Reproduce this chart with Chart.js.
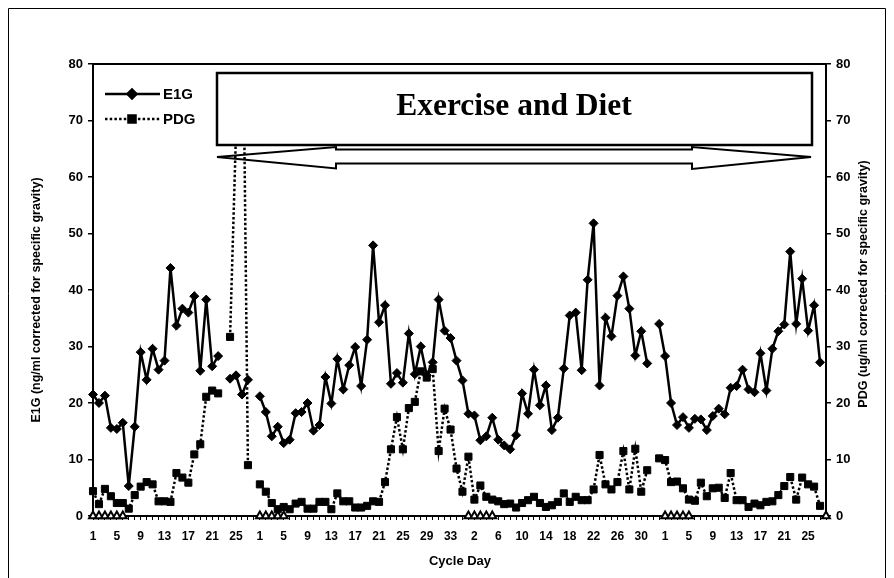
<!DOCTYPE html>
<html>
<head>
<meta charset="utf-8">
<script src="https://cdn.jsdelivr.net/npm/chart.js@4.4.0/dist/chart.umd.min.js"></script>
<style>
  html, body { margin: 0; padding: 0; background: #fff; }
  #wrap { width: 894px; height: 578px; }
</style>
</head>
<body>
<div id="wrap"><canvas id="chart" width="894" height="578"></canvas></div>
<script>
// ── DATA ──────────────────────────────────────────
// four cycles, days numbered from 1 in each
const cycleLengths = [28, 35, 33, 28];
const cycleDays = [];
cycleLengths.forEach(n => { for (let d = 1; d <= n; d++) cycleDays.push(String(d)); });

// E1G (ng/ml), null = no sample
const e1g = [
  21.5, 20.0, 21.3, 15.6, 15.4, 16.5, 5.3, 15.8, 29.0, 24.1,
  29.6, 25.9, 27.5, 43.9, 33.7, 36.7, 36.0, 38.9, 25.7, 38.3,
  26.5, 28.3, null, 24.3, 24.9, 21.5, 24.1, null,
  21.2, 18.4, 14.1, 15.8, 12.9, 13.5, 18.2, 18.4, 20.0, 15.1,
  16.1, 24.6, 19.9, 27.8, 22.4, 26.7, 29.9, 23.0, 31.2, 47.9,
  34.3, 37.3, 23.4, 25.3, 23.6, 32.3, 25.1, 30.0, 24.9, 27.2,
  38.3, 32.8, 31.5, 27.5, 24.0,
  18.1, 17.8, 13.4, 14.1, 17.4, 13.5, 12.5, 11.8, 14.3, 21.7,
  18.1, 25.9, 19.6, 23.1, 15.2, 17.4, 26.1, 35.5, 36.0, 25.8,
  41.8, 51.8, 23.1, 35.1, 31.8, 39.0, 42.4, 36.7, 28.4, 32.7,
  27.0, null, 34.0,
  28.3, 20.0, 16.1, 17.5, 15.6, 17.2, 17.1, 15.2, 17.7, 19.0,
  18.0, 22.7, 23.0, 25.9, 22.4, 21.9, 28.8, 22.2, 29.6, 32.7,
  33.9, 46.8, 34.0, 42.0, 32.8, 37.3, 27.2, null
];

// PDG (ug/ml), null = no sample
const pdg = [
  4.4, 2.1, 4.8, 3.5, 2.3, 2.3, 1.3, 3.7, 5.2, 6.0,
  5.6, 2.6, 2.6, 2.5, 7.6, 6.8, 5.9, 10.9, 12.7, 21.1,
  22.2, 21.7, null, 31.7, 68.0, 105.0, 9.0, null,
  5.6, 4.3, 2.3, 1.2, 1.6, 1.2, 2.2, 2.5, 1.3, 1.3,
  2.5, 2.5, 1.2, 4.0, 2.6, 2.6, 1.5, 1.5, 1.8, 2.6,
  2.5, 6.0, 11.8, 17.5, 11.8, 19.1, 20.2, 25.6, 24.5, 26.0,
  11.5, 19.0, 15.3, 8.4, 4.3,
  10.5, 2.9, 5.4, 3.4, 2.9, 2.6, 2.1, 2.2, 1.5, 2.3,
  2.8, 3.4, 2.3, 1.6, 1.9, 2.5, 4.0, 2.5, 3.4, 2.8,
  2.8, 4.7, 10.8, 5.6, 4.7, 6.0, 11.5, 4.7, 11.9, 4.3,
  8.1, null, 10.2,
  9.9, 6.0, 6.1, 4.9, 2.9, 2.7, 5.9, 3.5, 4.9, 5.0,
  3.2, 7.6, 2.8, 2.8, 1.6, 2.2, 1.9, 2.5, 2.6, 3.7,
  5.3, 6.9, 2.9, 6.8, 5.6, 5.2, 1.8, null
];

// positions (index into cycleDays) of the open triangles on the zero line
const mensesIdx = [0, 1, 2, 3, 4, 5, 28, 29, 30, 31, 32, 63, 64, 65, 66, 67, 96, 97, 98, 99, 100, 123];
const menses = cycleDays.map((_, i) => mensesIdx.includes(i) ? 0 : null);

const yMin = 0, yMax = 80, yStep = 10;

// ── STYLE ─────────────────────────────────────────
const SANS = "'Liberation Sans', Arial, sans-serif";
const SERIF = "'Liberation Serif', 'Times New Roman', serif";
const tickFont = { family: SANS, size: 13, weight: 'bold' };
const xTickFont = { family: SANS, size: 12, weight: 'bold' };

function yAxis(position, width) {
  return {
    position,
    min: yMin, max: yMax,
    ticks: { stepSize: yStep, padding: 5, color: '#000', font: tickFont },
    grid: { drawOnChartArea: false, drawTicks: true, tickLength: 5, color: '#000', lineWidth: 1.5 },
    border: { display: true, color: '#000', width: 2 },
    afterFit: s => { s.width = width; },
  };
}

// ── OVERLAY: frame, arrow, box, legend, titles ────
const overlay = {
  id: 'overlay',
  beforeDatasetsDraw(chart) {
    const ctx = chart.ctx;
    ctx.save();
    // double-headed block arrow under the box
    ctx.beginPath();
    ctx.moveTo(217, 157);
    ctx.lineTo(336, 147);
    ctx.lineTo(336, 149.5);
    ctx.lineTo(692, 149.5);
    ctx.lineTo(692, 147);
    ctx.lineTo(811, 157);
    ctx.lineTo(692, 169);
    ctx.lineTo(692, 163.5);
    ctx.lineTo(336, 163.5);
    ctx.lineTo(336, 168.5);
    ctx.closePath();
    ctx.fillStyle = '#fff';
    ctx.fill();
    ctx.lineWidth = 2;
    ctx.strokeStyle = '#000';
    ctx.stroke();
    ctx.restore();
  },
  afterDatasetsDraw(chart) {
    const ctx = chart.ctx;
    const H = Chart.helpers;
    ctx.save();
    // box with the label
    ctx.fillStyle = '#fff';
    ctx.fillRect(217, 73, 595, 72);
    ctx.lineWidth = 2.5;
    ctx.strokeStyle = '#000';
    ctx.strokeRect(217, 73, 595, 72);
    ctx.fillStyle = '#000';
    ctx.font = 'bold 31.5px ' + SERIF;
    ctx.textAlign = 'center';
    ctx.textBaseline = 'alphabetic';
    ctx.fillText('Exercise and Diet', 514, 115);

    // legend
    const rows = [
      { ds: chart.data.datasets[0], y: 94 },
      { ds: chart.data.datasets[1], y: 119 },
    ];
    rows.forEach(r => {
      ctx.beginPath();
      ctx.setLineDash(r.ds.borderDash || []);
      ctx.lineWidth = r.ds.borderWidth;
      ctx.strokeStyle = '#000';
      ctx.moveTo(105, r.y);
      ctx.lineTo(160, r.y);
      ctx.stroke();
      ctx.setLineDash([]);
      ctx.fillStyle = '#000';
      H.drawPoint(ctx, {
        pointStyle: r.ds.pointStyle, radius: r.ds.pointRadius,
        rotation: 0, borderWidth: 1,
      }, 132, r.y);
      ctx.fillStyle = '#000';
      ctx.font = 'bold 15px ' + SANS;
      ctx.textAlign = 'left';
      ctx.textBaseline = 'middle';
      ctx.fillText(r.ds.label, 163, r.y + 1);
    });
    ctx.restore();
  },
  afterDraw(chart) {
    const ctx = chart.ctx;
    const a = chart.chartArea;
    ctx.save();
    // top edge of the plot frame
    ctx.strokeStyle = '#000';
    ctx.lineWidth = 2;
    ctx.beginPath();
    ctx.moveTo(a.left, a.top);
    ctx.lineTo(a.right, a.top);
    ctx.stroke();
    // outer border of the figure
    ctx.lineWidth = 1;
    ctx.beginPath();
    ctx.moveTo(8.5, 578);
    ctx.lineTo(8.5, 8.5);
    ctx.lineTo(885.5, 8.5);
    ctx.lineTo(885.5, 578);
    ctx.stroke();

    // axis titles
    ctx.fillStyle = '#000';
    ctx.textAlign = 'center';
    ctx.textBaseline = 'middle';
    ctx.font = 'bold 13px ' + SANS;
    ctx.fillText('Cycle Day', 460, 561);

    ctx.font = 'bold 12.5px ' + SANS;
    ctx.save();
    ctx.translate(37, 300);
    ctx.rotate(-Math.PI / 2);
    ctx.fillText('E1G (ng/ml corrected for specific gravity)', 0, 0);
    ctx.restore();
    ctx.save();
    ctx.translate(864, 284);
    ctx.rotate(-Math.PI / 2);
    ctx.fillText('PDG (ug/ml corrected for specific gravity)', 0, 0);
    ctx.restore();
    ctx.restore();
  },
};

// ── CHART ─────────────────────────────────────────
new Chart(document.getElementById('chart').getContext('2d'), {
  type: 'line',
  data: {
    labels: cycleDays,
    datasets: [
      {
        label: 'E1G',
        data: e1g,
        yAxisID: 'y',
        borderColor: '#000',
        backgroundColor: '#000',
        borderWidth: 2.5,
        pointStyle: 'rectRot',
        pointRadius: 4.5,
        pointBorderWidth: 1,
        tension: 0,
        spanGaps: false,
        clip: { left: 10, right: 10, top: 10, bottom: 10 },
        order: 1,
      },
      {
        label: 'PDG',
        data: pdg,
        yAxisID: 'y2',
        borderColor: '#000',
        backgroundColor: '#000',
        borderWidth: 2.5,
        borderDash: [2.5, 2.2],
        pointStyle: 'rect',
        pointRadius: 5,
        pointBorderWidth: 1,
        tension: 0,
        spanGaps: false,
        clip: { left: 10, right: 10, top: -12, bottom: 10 },
        order: 2,
      },
      {
        label: 'Menses',
        data: menses,
        yAxisID: 'y',
        showLine: false,
        borderColor: '#000',
        backgroundColor: '#fff',
        pointStyle: 'triangle',
        pointRadius: 4.5,
        pointBorderWidth: 2,
        clip: false,
        order: 0,
      },
    ],
  },
  options: {
    responsive: false,
    devicePixelRatio: 1,
    animation: false,
    events: [],
    layout: { padding: { top: 64, left: 0, right: 0, bottom: 0 } },
    plugins: {
      legend: { display: false },
      title: { display: false },
      tooltip: { enabled: false },
    },
    scales: {
      x: {
        type: 'category',
        offset: false,
        grid: { drawOnChartArea: false, drawTicks: true, tickLength: 4, color: '#000', lineWidth: 1 },
        border: { display: true, color: '#000', width: 2 },
        ticks: {
          autoSkip: false, maxRotation: 0, minRotation: 0,
          padding: 9, color: '#000', font: xTickFont,
          callback: (v, i) => (i % 4 === 0 ? cycleDays[i] : ''),
        },
        afterFit: s => { s.height = 62; },
      },
      y: yAxis('left', 93),
      y2: yAxis('right', 68),
    },
  },
  plugins: [overlay],
});
</script>
</body>
</html>
